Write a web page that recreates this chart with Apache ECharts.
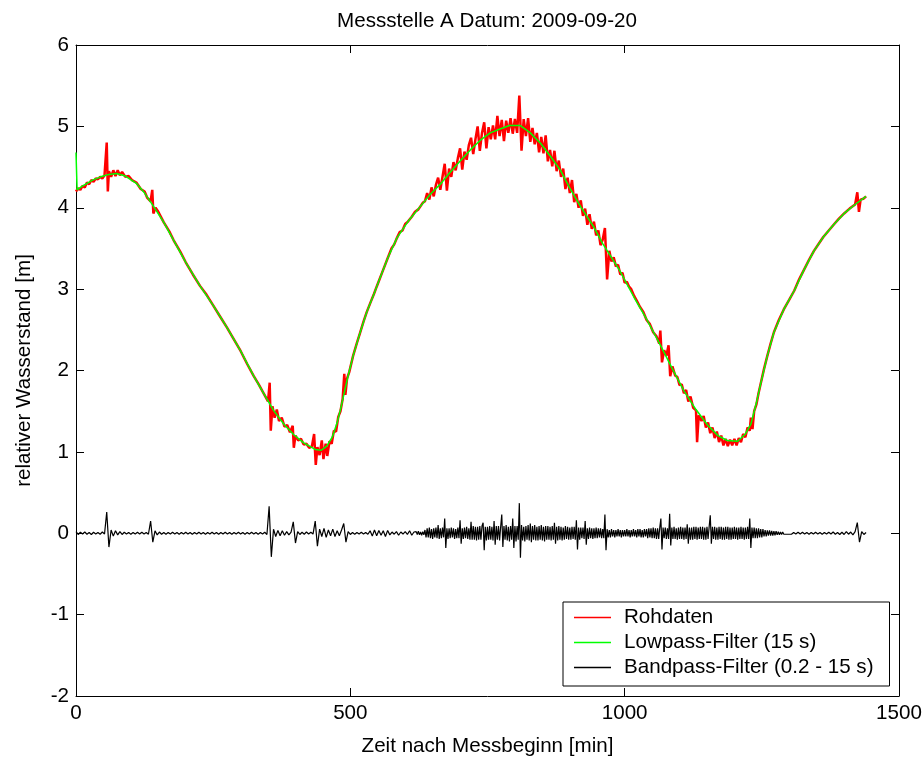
<!DOCTYPE html>
<html>
<head>
<meta charset="utf-8">
<script src="https://cdn.jsdelivr.net/npm/echarts@6/dist/echarts.min.js"></script>
<style>
  html, body { margin: 0; padding: 0; background: #fff; }
  #chart { width: 923px; height: 758px; }
</style>
</head>
<body>
<div id="chart"></div>
<script>
// ---------- Data ----------
const chartTitle = 'Messstelle A Datum: 2009-09-20';
const xName = 'Zeit nach Messbeginn [min]';
const yName = 'relativer Wasserstand [m]';
const seriesNames = ['Rohdaten', 'Lowpass-Filter (15 s)', 'Bandpass-Filter (0.2 - 15 s)'];
const seriesColors = ['#ff0000', '#00ff00', '#000000'];
const xTicks = [0, 500, 1000, 1500];
const yTicks = [-2, -1, 0, 1, 2, 3, 4, 5, 6];

// Lowpass filter (15 s): time [min] and level [m]
const lowTime = [0,2,10,20,30,45,60,74,90,
  110,125,141,160,178,200,226,250,275,300,
  324,342,360,380,397,415,436,447,457,467,
  476,482,494,505,518,530,543,552,568,585,
  605,628,645,664,680,701,720,737,755,774,
  790,810,828,847,865,883,900,920,944,960,
  990,1017,1040,1066,1087,1108,1130,1151,1170,1187,
  1206,1220,1230,1240,1248,1260,1272,1290,1309,1327,
  1345,1362,1382,1400,1420,1440];
const lowLevel = [4.68,4.22,4.26,4.30,4.34,4.38,4.41,4.42,4.39,
  4.30,4.18,4.02,3.82,3.60,3.33,3.04,2.80,2.53,2.24,
  1.93,1.72,1.51,1.33,1.21,1.11,1.03,1.02,1.07,1.18,
  1.36,1.52,1.88,2.18,2.47,2.72,2.94,3.10,3.38,3.63,
  3.83,4.02,4.16,4.29,4.42,4.58,4.72,4.83,4.92,4.97,
  5.01,5.01,4.92,4.79,4.63,4.46,4.24,4.01,3.76,3.56,
  3.24,2.90,2.63,2.30,2.02,1.75,1.52,1.33,1.20,1.14,
  1.13,1.22,1.34,1.60,1.84,2.18,2.47,2.75,2.98,3.24,
  3.47,3.64,3.80,3.93,4.04,4.14];

// Raw data, part 1 (0 - 636 min): [time, level]
const rawPart1 = [[0,4.20],[4,4.24],[8,4.22],[12,4.27],[16,4.25],[20,4.31],[24,4.29],[28,4.34],[32,4.32],[36,4.36],
  [40,4.35],[44,4.38],[48,4.36],[52,4.40],[56,4.80],[58,4.20],[60,4.45],[64,4.38],[68,4.46],[72,4.39],
  [76,4.46],[80,4.40],[84,4.44],[90,4.38],[96,4.39],[102,4.34],[110,4.31],[118,4.23],[125,4.20],[130,4.12],
  [136,4.08],[139,4.22],[141,3.93],[145,4.00],[150,3.95],[160,3.82],[170,3.71],[178,3.60],[190,3.46],[200,3.33],
  [213,3.18],[226,3.04],[238,2.93],[250,2.80],[262,2.67],[275,2.53],[288,2.38],[300,2.24],[312,2.08],[324,1.93],
  [333,1.83],[342,1.72],[350,1.62],[353,1.85],[355,1.26],[358,1.56],[362,1.42],[366,1.52],[370,1.38],[375,1.42],
  [380,1.31],[385,1.33],[390,1.24],[395,1.32],[397,1.05],[400,1.20],[405,1.14],[410,1.16],[415,1.09],[420,1.10],
  [425,1.05],[430,1.07],[434,1.22],[437,0.84],[440,1.06],[444,0.96],[448,1.14],[451,0.91],[455,1.10],[458,0.95],
  [462,1.13],[466,1.10],[470,1.26],[474,1.25],[478,1.43],[482,1.50],[486,1.65],[489,1.96],[491,1.70],[494,1.90],
  [498,1.98],[505,2.18],[512,2.34],[518,2.47],[524,2.60],[530,2.72],[537,2.84],[543,2.94],[548,3.03],[552,3.10],
  [560,3.24],[568,3.38],[575,3.50],[580,3.55],[585,3.63],[590,3.70],[595,3.72],[600,3.80],[605,3.83],[612,3.89],
  [618,3.95],[624,3.98],[628,4.02],[632,4.06],[636,4.08]];

// Raw data, part 2: noisy stretch sampled every 4 min from 640 to 1000 min
const rawPart2Start = 640;
const rawPart2Step = 4;
const rawPart2 = [4.18,4.10,4.25,4.14,4.28,4.37,4.22,4.38,4.54,4.21,
  4.48,4.38,4.56,4.46,4.61,4.73,4.47,4.69,4.59,4.77,
  4.86,4.66,4.84,5.00,4.70,4.92,5.05,4.73,4.99,4.84,
  5.01,4.84,5.13,4.88,5.08,4.82,5.07,4.92,5.10,4.91,
  5.09,4.92,5.38,4.70,5.09,4.88,5.10,4.81,4.98,4.78,
  4.92,4.68,4.87,4.67,4.89,4.57,4.71,4.51,4.70,4.45,
  4.58,4.38,4.48,4.23,4.37,4.18,4.34,4.07,4.17,4.00,
  4.09,3.90,3.99,3.79,3.92,3.74,3.83,3.66,3.72,3.54,
  3.61,3.75,3.12,3.47,3.34,3.39,3.28,3.30,3.18,3.20,
  3.08];

// Raw data, part 3 (1004 - 1440 min): [time, level]
const rawPart3 = [[1004,3.09],[1008,3.03],[1012,3.00],[1017,2.92],[1022,2.86],[1028,2.78],[1034,2.72],[1040,2.62],[1046,2.57],[1052,2.47],
  [1058,2.42],[1063,2.33],[1065,2.49],[1068,2.10],[1072,2.25],[1076,2.18],[1080,2.31],[1083,1.93],[1087,2.05],[1092,1.94],
  [1096,1.92],[1100,1.82],[1104,1.83],[1108,1.72],[1112,1.76],[1116,1.62],[1120,1.68],[1125,1.54],[1130,1.51],[1132,1.12],
  [1135,1.45],[1140,1.38],[1144,1.44],[1148,1.30],[1152,1.36],[1156,1.23],[1160,1.30],[1164,1.17],[1168,1.25],[1172,1.12],
  [1176,1.20],[1180,1.08],[1184,1.16],[1188,1.07],[1192,1.15],[1196,1.08],[1200,1.16],[1204,1.08],[1208,1.17],[1212,1.12],
  [1216,1.22],[1220,1.18],[1224,1.30],[1228,1.26],[1230,1.42],[1233,1.28],[1236,1.50],[1240,1.58],[1244,1.72],[1248,1.84],
  [1254,2.02],[1260,2.18],[1266,2.33],[1272,2.47],[1281,2.62],[1290,2.75],[1300,2.87],[1309,2.98],[1318,3.12],[1327,3.24],
  [1336,3.36],[1345,3.47],[1354,3.56],[1362,3.64],[1372,3.72],[1382,3.80],[1391,3.87],[1400,3.93],[1410,3.99],[1420,4.04],
  [1424,4.19],[1427,3.95],[1430,4.10],[1435,4.11],[1440,4.14]];

// Bandpass filter (0.2 - 15 s), part A: every 4 min from 0 to 616 min
const bandA_start = 0, bandA_step = 4;
const bandA = [
  0.02,-0.015,0.012,-0.01,0.015,-0.012,0.01,-0.015,0.012,-0.01,
  0.01,-0.012,0.015,-0.01,0.26,-0.17,0.04,-0.035,0.03,-0.02,
  0.02,-0.015,0.012,-0.01,0.01,-0.012,0.01,-0.01,0.012,-0.01,
  0.012,-0.01,0.01,-0.012,0.15,-0.11,0.03,-0.02,0.015,-0.012,
  0.01,-0.012,0.01,-0.01,0.012,-0.01,0.01,-0.012,0.01,-0.01,
  0.012,-0.01,0.01,-0.012,0.01,-0.01,0.012,-0.01,0.01,-0.012,
  0.01,-0.01,0.012,-0.01,0.01,-0.012,0.01,-0.01,0.012,-0.01,
  0.01,-0.012,0.01,-0.01,0.012,-0.01,0.01,-0.012,0.01,-0.01,
  0.012,-0.01,0.01,-0.012,0.01,-0.01,0.012,-0.015,0.33,-0.29,
  0.05,-0.04,0.035,-0.03,0.03,-0.025,0.02,-0.02,0.015,0.14,
  -0.12,0.02,-0.015,0.012,-0.012,0.015,-0.01,0.012,-0.01,0.15,
  -0.16,0.05,-0.04,0.06,-0.05,0.04,-0.03,0.05,-0.04,0.03,
  -0.03,0.04,0.12,-0.11,0.02,-0.015,0.01,-0.012,0.01,-0.01,
  0.012,-0.01,0.01,-0.012,0.03,-0.035,0.04,-0.03,0.035,-0.025,
  0.03,-0.04,0.035,-0.02,0.015,-0.012,0.02,-0.025,0.015,-0.01,
  0.02,-0.015,0.03,-0.025,0.015];

// Bandpass part B: noisy stretch, every 2 min from 620 to 1300 min
const bandB_start = 620, bandB_step = 2;
const bandB = [
  0.02,-0.015,0.025,-0.02,0.015,-0.025,0.02,-0.02,0.04,-0.05,
  0.06,-0.05,0.07,-0.06,0.05,-0.07,0.06,-0.05,0.07,-0.06,
  0.10,-0.07,0.06,-0.06,0.07,-0.05,0.18,-0.18,0.06,-0.07,
  0.06,-0.06,0.07,-0.05,0.06,-0.07,0.05,-0.06,0.07,-0.06,
  0.16,-0.13,0.06,-0.07,0.07,-0.06,0.08,-0.07,0.06,-0.08,
  0.14,-0.08,0.09,-0.08,0.08,-0.09,0.08,-0.08,0.09,-0.08,
  0.09,0.13,-0.21,0.08,-0.09,0.08,-0.08,0.09,-0.08,0.08,
  -0.09,0.15,-0.14,0.09,-0.08,0.09,-0.09,0.08,0.23,-0.17,
  0.09,-0.08,0.10,-0.09,0.08,-0.10,0.09,-0.08,0.18,-0.18,
  0.09,-0.10,0.09,-0.08,0.37,-0.30,0.10,-0.09,0.08,-0.10,
  0.09,-0.08,0.10,-0.09,0.12,-0.11,0.09,-0.08,0.10,-0.09,
  0.08,-0.09,0.09,-0.08,0.10,-0.09,0.08,-0.10,0.09,-0.08,
  0.09,-0.08,0.08,-0.09,0.09,-0.08,0.13,-0.13,0.08,-0.09,
  0.09,-0.08,0.08,-0.09,0.07,-0.08,0.09,-0.07,0.08,-0.08,
  0.07,-0.08,0.08,-0.07,0.08,-0.08,0.16,-0.20,0.07,-0.08,
  0.07,-0.06,0.07,-0.07,0.15,-0.14,0.06,-0.07,0.07,-0.06,
  0.06,-0.07,0.06,-0.06,0.07,-0.06,0.06,-0.05,0.06,-0.06,
  0.05,-0.06,0.23,-0.21,0.05,-0.05,0.04,-0.05,0.05,-0.04,
  0.04,-0.05,0.04,-0.04,0.05,-0.04,0.04,-0.05,0.04,-0.04,
  0.04,-0.04,0.05,-0.04,0.04,-0.05,0.04,-0.04,0.05,-0.04,
  0.04,-0.05,0.05,-0.04,0.05,-0.05,0.04,-0.05,0.05,-0.04,
  0.05,-0.06,0.06,-0.05,0.06,-0.06,0.07,-0.06,0.06,-0.07,
  0.06,-0.07,0.07,0.18,-0.20,0.07,-0.06,0.07,-0.07,0.06,
  -0.07,0.24,-0.15,0.07,-0.07,0.08,-0.07,0.06,-0.08,0.07,
  -0.07,0.08,-0.07,0.07,-0.08,0.07,-0.07,0.11,-0.13,0.07,
  -0.08,0.07,-0.08,0.08,-0.07,0.08,-0.08,0.07,-0.07,0.08,
  -0.07,0.08,-0.08,0.07,-0.08,0.08,-0.07,0.08,0.22,-0.13,
  0.08,-0.07,0.08,-0.08,0.07,-0.08,0.08,-0.07,0.08,-0.08,
  0.07,-0.08,0.08,-0.07,0.08,-0.08,0.07,-0.08,0.07,-0.07,
  0.08,-0.07,0.07,-0.08,0.07,-0.07,0.08,-0.07,0.07,-0.08,
  0.07,-0.07,0.08,-0.07,0.18,-0.18,0.07,-0.06,0.07,-0.06,
  0.06,-0.06,0.06,-0.05,0.05,-0.05,0.05,-0.04,0.04,-0.04,
  0.035,-0.03,0.035,-0.03,0.03,-0.03,0.025,-0.025,0.025,-0.02,
  0.02,-0.02,0.015,-0.015,0.015,-0.012,0.012,-0.012,0.01,-0.012,
  0.01];

// Bandpass part C: every 4 min from 1304 to 1440 min
const bandC_start = 1304, bandC_step = 4;
const bandC = [
  -0.012,0.01,-0.01,0.012,
  -0.01,0.012,-0.01,0.01,-0.012,0.01,-0.01,0.012,-0.01,0.01,
  -0.012,0.01,-0.01,0.012,-0.01,0.015,-0.012,0.01,-0.015,0.012,
  -0.015,0.02,-0.012,0.015,-0.02,0.02,0.13,-0.11,0.02,-0.015,
  0.01];

// ---------- Build series data ----------
const lowData = lowTime.map((t, i) => [t, lowLevel[i]]);
const rawData = rawPart1
  .concat(rawPart2.map((v, i) => [rawPart2Start + i * rawPart2Step, v]))
  .concat(rawPart3);
const bandData = bandA.map((v, i) => [bandA_start + i * bandA_step, v])
  .concat(bandB.map((v, i) => [bandB_start + i * bandB_step, v]))
  .concat(bandC.map((v, i) => [bandC_start + i * bandC_step, v]));

const FONT = '"Liberation Sans", Arial, Helvetica, sans-serif';
const FS = 20.6;
const chart = echarts.init(document.getElementById('chart'), null, { renderer: 'canvas' });

const axisCommon = {
  type: 'value',
  splitLine: { show: false },
  axisLine: { show: true, onZero: false, lineStyle: { color: '#000', width: 1 } },
  axisTick: { show: true, inside: true, length: 8, lineStyle: { color: '#000', width: 1 } }
};

chart.setOption({
  animation: false,
  backgroundColor: '#fff',
  title: {
    text: chartTitle,
    left: 482,
    top: 6,
    textAlign: 'center',
    textStyle: { fontFamily: FONT, fontSize: FS, fontWeight: 'normal', color: '#000' }
  },
  grid: { left: 76, right: 24, top: 45, bottom: 62, containLabel: false, outerBoundsMode: 'none' },
  legend: {
    orient: 'vertical',
    left: 563,
    top: 602,
    data: seriesNames.map((n, i) => ({
      name: n,
      icon: 'rect',
      itemStyle: { color: seriesColors[i], borderWidth: 0, borderColor: seriesColors[i], opacity: 1 }
    })),
    itemWidth: 37,
    itemHeight: 1.5,
    itemGap: 4,
    padding: [5, 16, 8, 11],
    backgroundColor: '#fff',
    borderColor: '#000',
    borderWidth: 1,
    borderRadius: 0,
    textStyle: { fontFamily: FONT, fontSize: FS, color: '#000', padding: [0, 0, 0, 8] }
  },
  xAxis: [
    Object.assign({}, axisCommon, {
      position: 'bottom', min: xTicks[0], max: xTicks[xTicks.length - 1], interval: 500,
      name: xName, nameLocation: 'middle', nameGap: 40,
      nameTextStyle: { fontFamily: FONT, fontSize: FS, color: '#000' },
      axisLabel: { fontFamily: FONT, fontSize: FS, color: '#000', margin: 7, formatter: v => String(v) }
    }),
    Object.assign({}, axisCommon, {
      position: 'top', min: xTicks[0], max: xTicks[xTicks.length - 1], interval: 500,
      axisLabel: { show: false }
    })
  ],
  yAxis: [
    Object.assign({}, axisCommon, {
      position: 'left', min: yTicks[0], max: yTicks[yTicks.length - 1], interval: 1,
      name: yName, nameLocation: 'middle', nameGap: 41, nameRotate: 90,
      nameTextStyle: { fontFamily: FONT, fontSize: FS, color: '#000' },
      axisLabel: { fontFamily: FONT, fontSize: FS, color: '#000', margin: 7, formatter: v => String(v) }
    }),
    Object.assign({}, axisCommon, {
      position: 'right', min: yTicks[0], max: yTicks[yTicks.length - 1], interval: 1,
      axisLabel: { show: false }
    })
  ],
  series: [
    {
      name: seriesNames[0], type: 'line', data: rawData,
      xAxisIndex: 0, yAxisIndex: 0,
      showSymbol: false, symbol: 'none',
      lineStyle: { color: seriesColors[0], width: 2.5 },
      itemStyle: { color: seriesColors[0] },
      z: 2
    },
    {
      name: seriesNames[1], type: 'line', data: lowData,
      xAxisIndex: 0, yAxisIndex: 0,
      showSymbol: false, symbol: 'none',
      lineStyle: { color: seriesColors[1], width: 1.5 },
      itemStyle: { color: seriesColors[1] },
      z: 3
    },
    {
      name: seriesNames[2], type: 'line', data: bandData,
      xAxisIndex: 0, yAxisIndex: 0,
      showSymbol: false, symbol: 'none',
      lineStyle: { color: seriesColors[2], width: 1.2 },
      itemStyle: { color: seriesColors[2] },
      z: 4
    }
  ]
});
</script>
</body>
</html>
